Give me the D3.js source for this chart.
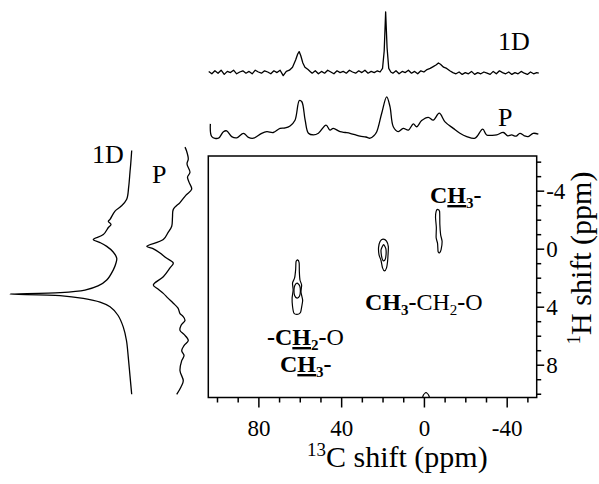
<!DOCTYPE html>
<html>
<head>
<meta charset="utf-8">
<script src="https://cdn.jsdelivr.net/npm/d3@7"></script>
<style>
  body { margin: 0; background: #fff; }
  svg { display: block; }
  svg text { font-family: "Liberation Serif", "Times New Roman", serif; }
</style>
</head>
<body>
<svg id="chart" width="599" height="484"></svg>
<script>
// ---------- axis ticks ----------
const carbonMajorTicks = [80, 40, 0, -40];
const carbonMinorTicks = [100, 90, 70, 60, 50, 30, 20, 10, -10, -20, -30, -50];
const protonMajorTicks = [-4, 0, 4, 8];
const protonMinorTicks = [-6, -5, -3, -2, -1, 1, 2, 3, 5, 6, 7, 9, 10];

// ---------- 13C projections: [13C ppm, intensity] ----------
const carbon1D = [
  [104, 1], [102.5, -3], [101, 2], [99.5, -2], [98, 3], [96.5, -4], [95, 1], [93.5, -1],
  [92, 3], [90.5, -3], [89, 0], [87.5, 2], [86, -2], [84.5, 1], [83, -3], [81.5, 3],
  [80, 0], [78.5, -2], [77, 2], [75.5, 0], [74, -3], [72.5, 2], [71, -1], [69.5, 3],
  [68, -6], [66.5, 1],
  [65, 3], [63.5, 8], [62, 20], [61, 30], [60.3, 34], [59.5, 27], [58.5, 15], [57.5, 8],
  [56, 4], [55, 1],
  [54, -2], [52.5, 2], [51, -3], [49.5, 1], [48, -2], [46.5, 3], [45, 0], [43.5, -3],
  [42, 2], [40.5, -1], [39, 1], [37.5, -2], [36, 3], [34.5, 0], [33, -2], [31.5, 2],
  [30, -1], [28.5, 3], [27, -2], [25.5, 1], [24, -1], [22.5, 2], [21.2, 0],
  [20, 6], [19.2, 35], [18.5, 100], [17.8, 40], [17, 6], [16, 0],
  [15, -2], [13.5, 2], [12, -3], [10.5, 1], [9, -1], [7.5, 3], [6, -2], [4.5, 1],
  [3, -3], [1.5, 2], [0, 0], [-1.5, 4],
  [-3, 6], [-4.5, 9], [-6, 12], [-7, 15], [-8, 13], [-9.5, 8], [-11, 6], [-12.5, 2],
  [-14, -1], [-15.5, -3], [-17, 0], [-18.5, -4], [-20, -1], [-21.5, -3], [-23, 1],
  [-24.5, -4], [-26, -1], [-27.5, -3], [-29, 0], [-30.5, -2], [-32, -4], [-33.5, 1],
  [-35, -3], [-36.5, 2], [-38, -1], [-39.5, -3], [-41, 0], [-42.5, -4], [-44, -1],
  [-45.5, -3], [-47, 1], [-48.5, -2], [-50, -4], [-51.5, 0], [-53, -3], [-54.5, -1],
  [-55.5, -2]
];

const carbonP = [
  [103.2, 32], [102.5, 1], [99.3, -3], [96.9, 13], [95.3, 15], [92.9, 1], [90.4, -2],
  [87.2, 9], [84.8, -1], [82.4, -3], [78.4, 9], [75.9, 13], [72.8, 11], [69.5, 21],
  [67, 22], [64.7, 27], [62.3, 41], [60.2, 89], [59.0, 86], [57.4, 41], [55.8, 9],
  [53.4, 5], [51.0, 9], [47.3, 29], [45.4, 17], [43.8, 21], [40.5, 13], [38, 11],
  [35.7, 9], [33, 5], [30.9, 2], [28, 0], [26.0, -3], [24.2, 3], [22.8, 13], [20.4, 58],
  [18.0, 98], [16.4, 74], [14.8, 25], [12.4, 13], [10.0, 21], [7.5, 17], [5.1, 32],
  [3.5, 25], [1.1, 40], [-2.1, 48], [-4.5, 41], [-7.4, 58], [-10.2, 37], [-14.2, 21],
  [-17.4, 9], [-20.7, 1], [-24.7, -3], [-28.4, 19], [-30.3, 5], [-33, 4], [-35.2, 5],
  [-38.4, 11], [-40.5, 3], [-42.4, 5], [-44.5, 2], [-46.4, 9], [-48.5, 3], [-50.4, 1],
  [-52.8, 9], [-55.3, 7]
];

// ---------- 1H projections: [1H ppm, intensity] ----------
const proton1D = [
  [-6.77, 0], [-5.84, 0.8], [-5.29, 1.4], [-4.24, 2.5], [-3.41, 4.1], [-2.92, 8.8],
  [-2.59, 13.7], [-2.02, 17.8], [-1.88, 19.2], [-1.67, 17], [-1.46, 19.2], [-0.97, 23.3],
  [-0.63, 31.6], [-0.42, 26], [-0.16, 20.5], [0.21, 15.4], [0.65, 12.3], [1.04, 13.1],
  [1.46, 15.1], [2.16, 20.5], [2.57, 27.7], [2.85, 38.4], [3.03, 58.9], [3.13, 100],
  [3.23, 58.9], [3.43, 39.8], [3.69, 26], [4.01, 17.8], [4.59, 11.3], [5.41, 6.9],
  [6.33, 4.3], [7.49, 2.8], [8.77, 1.4], [10.04, 0]
];

const protonP = [
  [-7.0, 14.9], [-6.75, 11.6], [-6.19, 7.6], [-5.84, 10.4], [-5.27, 3.8], [-4.94, 9.3],
  [-4.59, 6], [-4.10, 0], [-3.69, 12.7], [-3.18, 26], [-2.71, 40.9], [-2.16, 42.7],
  [-1.55, 44.4], [-1.11, 52.7], [-0.63, 63.1], [-0.16, 100], [0, 86], [0.30, 70.4],
  [0.63, 57], [0.99, 40.9], [1.32, 48.2], [1.93, 63.1], [2.50, 85.3], [2.78, 74.9],
  [3.08, 63.1], [3.41, 52.7], [3.76, 40.9], [4.10, 30.4], [4.47, 26], [4.66, 19.3],
  [4.94, 14.9], [5.29, 23.8], [5.63, 26], [5.91, 17], [6.33, 7.6], [6.68, 17],
  [7.03, 22.2], [7.37, 17], [7.72, 22.2], [8.42, 26], [9.11, 18.7], [9.53, 23.8],
  [10.04, 33.3]
];

// ---------- 2D contour outlines: [13C ppm, 1H ppm] ----------
const contourOCH2Outer = [
  [61.06, 0.77], [60.3, 0.97], [60.2, 1.6], [59.9, 2.16], [59.1, 2.5], [59.4, 3.0],
  [58.6, 3.55], [59.1, 4.03], [59.6, 4.38], [60.8, 4.52], [62.8, 4.45], [63.5, 3.97],
  [63.7, 3.41], [63.2, 2.85], [63.5, 2.37], [62.5, 2.02], [62.0, 1.46], [61.8, 0.9]
];
const contourOCH2Inner = [
  [61.3, 2.37], [60.0, 2.57], [59.7, 2.92], [60.1, 3.27], [61.3, 3.41], [62.5, 3.23],
  [62.8, 2.85], [62.4, 2.54]
];
const contourCH3Outer = [
  [19.76, -0.66], [18.07, -0.52], [17.2, -0.14], [17.34, 0.42], [17.58, 0.90],
  [18.07, 1.32], [19.03, 1.53], [20.0, 1.32], [20.7, 0.83], [21.69, 0.42], [21.93, -0.07],
  [21.2, -0.49]
];
const contourCH3Inner = [
  [19.5, -0.28], [18.4, 0], [18.3, 0.42], [18.8, 0.77], [19.76, 0.83], [20.5, 0.49],
  [20.7, 0.07]
];
const contourSurfaceCH3 = [
  [-6.6, -2.71], [-7.57, -2.57], [-7.7, -1.67], [-8.07, -0.97], [-8.79, -0.49],
  [-8.3, 0.07], [-7.57, 0.28], [-6.85, 0.21], [-6.6, -0.35], [-5.9, -0.77], [-6.0, -1.46],
  [-5.6, -2.16], [-5.9, -2.57]
];
const contourEdge = [
  [-1, 9.93], [-2.3, 10.1], [-2.7, 10.5], [-1, 10.8], [0.6, 10.5], [0.3, 10.1]
];
const contours = [contourOCH2Outer, contourOCH2Inner, contourCH3Outer, contourCH3Inner,
                  contourSurfaceCH3, contourEdge];

// ---------- layout ----------
const svg = d3.select("#chart");
const serif = '"Liberation Serif", "Times New Roman", serif';
const frame = { left: 208.3, right: 536.7, top: 156, bottom: 397.5 };

const xC = d3.scaleLinear().domain([104.2, -54.5]).range([frame.left, frame.right]);
const yH = d3.scaleLinear().domain([-6.39, 10.26]).range([frame.top, frame.bottom]);

// projection intensity scales
const yTop1D = d3.scaleLinear().domain([0, 100]).range([72, 12]);
const yTopP = d3.scaleLinear().domain([0, 100]).range([137, 96]);
const xLeft1D = d3.scaleLinear().domain([0, 100]).range([131.7, 10]);
const xLeftP = d3.scaleLinear().domain([0, 100]).range([191.7, 146.7]);

const traceStyle = sel => sel.attr("fill", "none").attr("stroke", "#000")
  .attr("stroke-width", 1.3).attr("stroke-linejoin", "round");

// top (13C) projections
const lineTop1D = d3.line().x(d => xC(d[0])).y(d => yTop1D(d[1]));
const lineTopP = d3.line().x(d => xC(d[0])).y(d => yTopP(d[1])).curve(d3.curveCatmullRom);
svg.append("path").attr("d", lineTop1D(carbon1D)).call(traceStyle);
svg.append("path").attr("d", lineTopP(carbonP)).call(traceStyle);

// left (1H) projections
const lineLeft1D = d3.line().x(d => xLeft1D(d[1])).y(d => yH(d[0])).curve(d3.curveCatmullRom);
const lineLeftP = d3.line().x(d => xLeftP(d[1])).y(d => yH(d[0])).curve(d3.curveCatmullRom);
svg.append("path").attr("d", lineLeft1D(proton1D)).call(traceStyle);
svg.append("path").attr("d", lineLeftP(protonP)).call(traceStyle);

// projection labels
const projLabels = [
  { text: "1D", x: 498, y: 50 }, { text: "P", x: 498, y: 126 },
  { text: "1D", x: 92, y: 163 }, { text: "P", x: 152, y: 183 }
];
svg.selectAll("text.proj").data(projLabels).join("text").attr("class", "proj")
  .attr("x", d => d.x).attr("y", d => d.y).attr("font-size", 26).text(d => d.text);

// 2D contour plot
svg.append("clipPath").attr("id", "plotClip").append("rect")
  .attr("x", frame.left).attr("y", frame.top)
  .attr("width", frame.right - frame.left).attr("height", frame.bottom - frame.top);

const contourLine = d3.line().x(d => xC(d[0])).y(d => yH(d[1])).curve(d3.curveCardinalClosed.tension(0.3));
svg.append("g").attr("clip-path", "url(#plotClip)")
  .selectAll("path").data(contours).join("path")
  .attr("d", contourLine).attr("fill", "none").attr("stroke", "#000").attr("stroke-width", 1.2);

// frame
svg.append("rect").attr("x", frame.left).attr("y", frame.top)
  .attr("width", frame.right - frame.left).attr("height", frame.bottom - frame.top)
  .attr("fill", "none").attr("stroke", "#000").attr("stroke-width", 1.5);

// bottom axis (13C)
const fmt = d => String(d);
const gx = svg.append("g").attr("transform", `translate(0,${frame.bottom})`);
gx.append("g").call(d3.axisBottom(xC).tickValues(carbonMinorTicks).tickSize(5).tickFormat(""));
gx.append("g").call(d3.axisBottom(xC).tickValues(carbonMajorTicks).tickSize(10).tickPadding(12).tickFormat(fmt));
gx.selectAll(".domain").remove();
gx.selectAll("g").attr("font-family", null);
gx.selectAll("line").attr("stroke-width", 1.5);
gx.selectAll("text").attr("font-size", 23).style("font-family", serif);

// right axis (1H)
const gy = svg.append("g").attr("transform", `translate(${frame.right},0)`);
gy.append("g").call(d3.axisRight(yH).tickValues(protonMinorTicks).tickSize(4.5).tickFormat(""));
gy.append("g").call(d3.axisRight(yH).tickValues(protonMajorTicks).tickSize(7.5).tickPadding(2).tickFormat(fmt));
gy.selectAll(".domain").remove();
gy.selectAll("g").attr("font-family", null);
gy.selectAll("line").attr("stroke-width", 1.5);
gy.selectAll("text").attr("font-size", 23).style("font-family", serif);

// axis titles
const xTitle = svg.append("text").attr("x", 307).attr("y", 467).attr("font-size", 30);
xTitle.append("tspan").attr("font-size", 19).attr("dy", -11).text("13");
xTitle.append("tspan").attr("dy", 11).text("C shift (ppm)");

const yTitle = svg.append("text").attr("transform", "translate(591,258) rotate(-90)")
  .attr("text-anchor", "middle").attr("font-size", 30);
yTitle.append("tspan").attr("font-size", 19).attr("dy", -11).text("1");
yTitle.append("tspan").attr("dy", 11).text("H shift (ppm)");

// peak assignments: segments of [text, bold, underline, subscript]
function richLabel(x, y, parts) {
  const t = svg.append("text").attr("x", x).attr("y", y).attr("font-size", 24);
  let shift = 0;
  parts.forEach(([txt, bold, under, sub]) => {
    const want = sub ? 5 : 0;
    const s = t.append("tspan").text(txt).attr("dy", want - shift)
      .attr("font-weight", bold ? "bold" : "normal");
    if (sub) s.attr("font-size", 15);
    if (under) s.style("text-decoration", "underline");
    shift = want;
  });
}
richLabel(430, 203, [["C", 1, 0, 0], ["H", 1, 1, 0], ["3", 1, 0, 1], ["-", 1, 0, 0]]);
richLabel(365, 310, [["CH", 1, 0, 0], ["3", 1, 0, 1], ["-", 1, 0, 0], ["CH", 0, 0, 0],
                     ["2", 0, 0, 1], ["-", 1, 0, 0], ["O", 0, 0, 0]]);
richLabel(267, 345, [["-C", 1, 0, 0], ["H", 1, 1, 0], ["2", 1, 0, 1], ["-", 1, 0, 0], ["O", 0, 0, 0]]);
richLabel(280, 372, [["C", 1, 0, 0], ["H", 1, 1, 0], ["3", 1, 0, 1], ["-", 1, 0, 0]]);
</script>
</body>
</html>
